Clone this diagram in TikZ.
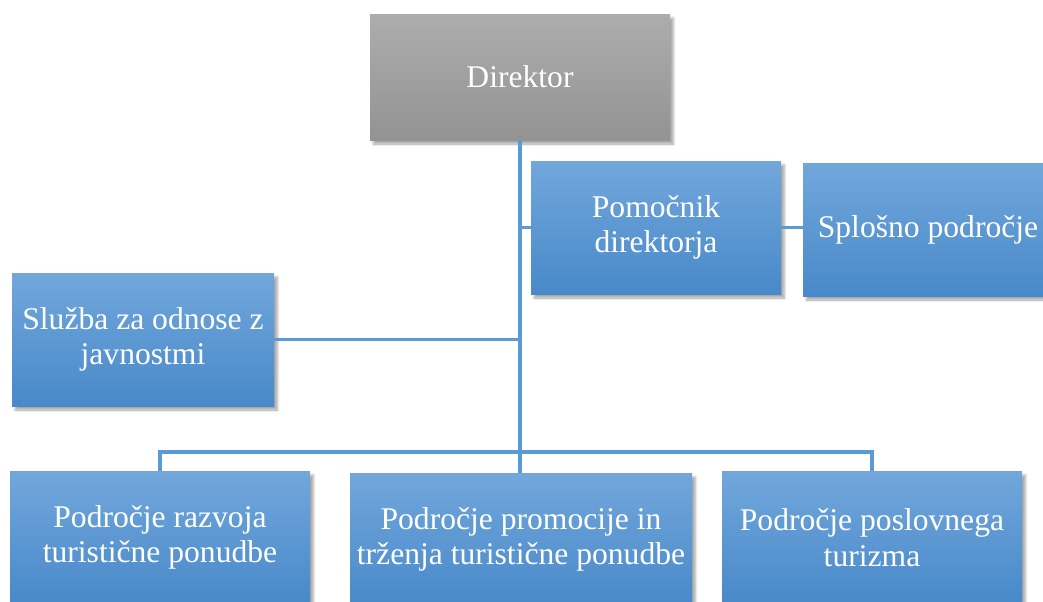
\documentclass[tikz,border=0pt]{standalone}
\usepackage{fontspec}
\setmainfont{Liberation Serif}
\usepackage{xcolor}
\usepackage{tikz}
\usetikzlibrary{positioning,shadows.blur}
\definecolor{BoxTop}{HTML}{72A7DC}
\definecolor{BoxBottom}{HTML}{4889C9}
\definecolor{HeadTop}{HTML}{ADADAD}
\definecolor{HeadBottom}{HTML}{939393}
\definecolor{LinkBlue}{HTML}{5B9BD5}
\tikzset{
  orgbox/.style={
    rectangle,
    top color=BoxTop,
    bottom color=BoxBottom,
    text=white,
    align=center,
    font=\fontsize{23.7}{26.5}\selectfont,
    inner sep=0pt,
    blur shadow={shadow xshift=2.5pt, shadow yshift=-3pt, shadow blur steps=6, shadow opacity=35}
  },
  headbox/.style={
    orgbox,
    top color=HeadTop,
    bottom color=HeadBottom
  },
  link/.style={draw=LinkBlue, line width=2.3pt}
}

\begin{document}
\begin{tikzpicture}[x=0.75pt, y=-0.75pt]
\useasboundingbox (0,0) rectangle (1043,601);
\node[headbox, minimum width=225pt, minimum height=94.5pt] (direktor) at (520,77) {Direktor};
\node[orgbox, minimum width=187.5pt, minimum height=99.75pt] (pomocnik) at (656,227.5) {Pomočnik\\direktorja};
\node[orgbox, minimum width=187.5pt, minimum height=99.75pt] (splosno) at (928,229.5) {Splošno področje};
\node[orgbox, minimum width=196.5pt, minimum height=99.75pt] (sluzba) at (143,339.5) {Služba za odnose z\\javnostmi};
\node[orgbox, minimum width=225pt, minimum height=99.75pt] (razvoj) at (160,537.5) {Področje razvoja\\turistične ponudbe};
\node[orgbox, minimum width=256.5pt, minimum height=99.75pt] (promocija) at (521,539.5) {Področje promocije in\\trženja turistične ponudbe};
\node[orgbox, minimum width=225pt, minimum height=99.75pt] (poslovni) at (872,537.5) {Področje poslovnega\\turizma};
\coordinate (bus) at (520,452);
\begin{scope}[on background layer/.try]
% Direktor -> trunk
\draw[link] (direktor.south) -- (bus);
% trunk -> Pomocnik direktorja
\draw[link] (direktor.south |- pomocnik.west) -- (pomocnik.west);
% Pomocnik direktorja -> Splosno podrocje
\draw[link] (pomocnik.east) -- (pomocnik.east -| splosno.west);
% trunk -> Sluzba za odnose z javnostmi
\draw[link] (sluzba.east) -- (sluzba.east -| direktor.south);
% bus -> the three areas
\draw[link] (razvoj.north) |- (bus) -| (poslovni.north);
\draw[link] (bus) -- (bus |- promocija.north);
\end{scope}
\end{tikzpicture}
\end{document}
